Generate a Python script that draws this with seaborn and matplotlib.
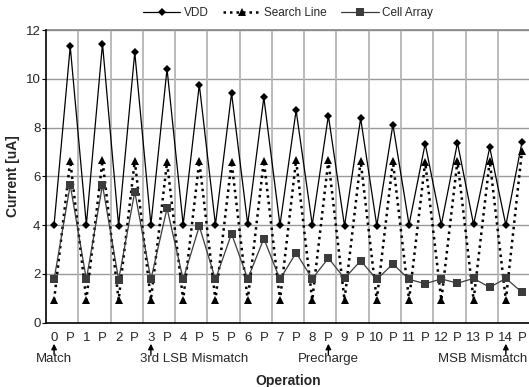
import matplotlib

matplotlib.use("Agg")
import matplotlib.pyplot as plt
import numpy as np
import pandas as pd
import seaborn as sns

# operations 0..14, each followed by a precharge phase "P"
ops = list(range(15))
tick_labels = [s for i in ops for s in (str(i), "P")]

vdd_op = [4.02, 4.02, 3.97, 4.02, 4.02, 4.02, 4.04, 4.0, 4.02, 3.97, 3.98, 4.02, 4.02, 4.03, 4.0]
vdd_pre = [11.33, 11.44, 11.09, 10.41, 9.76, 9.41, 9.24, 8.71, 8.49, 8.38, 8.12, 7.34, 7.38, 7.19, 7.41]
sl_op = [0.93] * 15
sl_pre = [6.64, 6.66, 6.64, 6.58, 6.62, 6.6, 6.64, 6.67, 6.66, 6.64, 6.62, 6.59, 6.64, 6.64, 7.05]
cell_op = [1.78, 1.78, 1.76, 1.78, 1.78, 1.78, 1.8, 1.78, 1.8, 1.82, 1.78, 1.78, 1.8, 1.82, 1.82]
cell_pre = [5.65, 5.65, 5.37, 4.69, 3.96, 3.65, 3.45, 2.87, 2.65, 2.54, 2.41, 1.6, 1.62, 1.45, 1.25]

annotations = [(0, "Match", "center"), (6, "3rd LSB Mismatch", "left"),
               (17, "Precharge", "center"), (28, "MSB Mismatch", "right")]


def interleave(a, b):
    return [v for pair in zip(a, b) for v in pair]


pos = np.arange(len(tick_labels))
df = pd.DataFrame({
    "pos": pos,
    "VDD": interleave(vdd_op, vdd_pre),
    "Search Line": interleave(sl_op, sl_pre),
    "Cell Array": interleave(cell_op, cell_pre),
})

sns.set_style("white")
plt.rcParams["font.family"] = ["Liberation Sans", "DejaVu Sans"]

fig = plt.figure(figsize=(5.29, 3.87), dpi=100)
ax = fig.add_axes([0.087, 0.166, 0.915, 0.7563])

# grid: horizontal every 2 uA, vertical between operation pairs
for y in range(2, 13, 2):
    ax.axhline(y, color="#999999", lw=1.0, zorder=0)
for x in np.arange(1.5, 29, 2):
    ax.axvline(x, color="#b5b5b5", lw=1.3, zorder=0)

sns.lineplot(data=df, x="pos", y="VDD", ax=ax, color="black", lw=0.9,
             marker="D", markersize=4, markeredgewidth=0, label="VDD", zorder=3)
sns.lineplot(data=df, x="pos", y="Search Line", ax=ax, color="black", lw=1.8,
             linestyle=(0, (1, 1.6)), marker="^", markersize=6,
             markeredgewidth=0, label="Search Line", zorder=4)
sns.lineplot(data=df, x="pos", y="Cell Array", ax=ax, color="#3c3c3c", lw=0.9,
             marker="s", markersize=6, markeredgewidth=0, label="Cell Array", zorder=5)

ax.set_xlim(-0.5, 29.5)
ax.set_ylim(0, 12)
ax.set_yticks(range(0, 13, 2))
ax.set_xticks(pos)
ax.set_xticklabels(tick_labels)
ax.set_xticks(np.arange(-0.5, 30, 1), minor=True)
ax.tick_params(axis="x", which="major", length=0, labelsize=9.5, pad=7)
ax.tick_params(axis="x", which="minor", direction="in", length=4, width=0.8, color="black")
ax.tick_params(axis="y", direction="out", length=3, width=0.8, labelsize=9.5, pad=1,
               left=True, color="black")

for side in ["top", "right"]:
    ax.spines[side].set_visible(False)
for side in ["left", "bottom"]:
    ax.spines[side].set_color("black")
    ax.spines[side].set_linewidth(1.2)
ax.axhline(12, color="#888888", lw=1.2, zorder=1, clip_on=False)

ax.set_xlabel("Operation", fontweight="bold", fontsize=10, labelpad=21)
ax.set_ylabel("Current [uA]", fontweight="bold", fontsize=10, labelpad=4)

for x, text, ha in annotations:
    ax.annotate("", xy=(x, -0.86), xytext=(x, -1.3), xycoords="data",
                arrowprops=dict(arrowstyle="-|>", color="black", lw=1.0,
                                mutation_scale=8, shrinkA=0, shrinkB=0),
                annotation_clip=False)
    tx = x - 0.7 if ha == "left" else (x + 1.35 if ha == "right" else x)
    ax.text(tx, -1.25, text, ha=ha, va="top", fontsize=9.5, clip_on=False)

ax.legend(loc="lower center", bbox_to_anchor=(0.5, 1.02), ncol=3, frameon=False,
          fontsize=8.5, handlelength=3.2, columnspacing=1.2, handletextpad=0.3,
          borderaxespad=0)

fig.savefig("out.png", dpi=100)
